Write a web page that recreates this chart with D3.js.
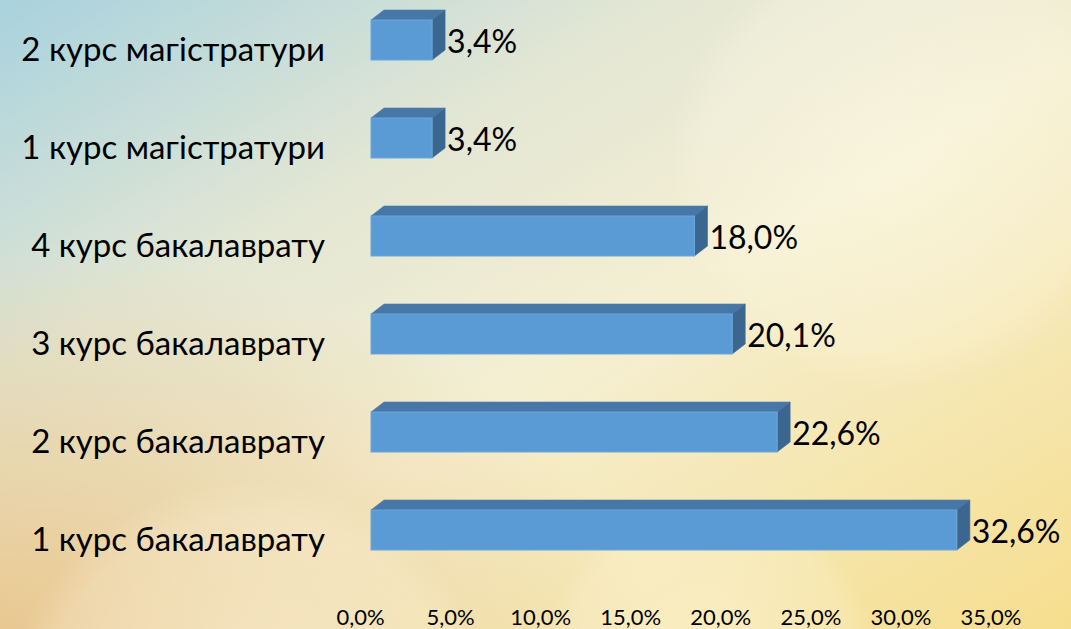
<!DOCTYPE html>
<html>
<head>
<meta charset="utf-8">
<script src="https://cdn.jsdelivr.net/npm/d3@7"></script>
<style>
  body { margin: 0; overflow: hidden; }
  svg text { font-family: Lato, "Open Sans", sans-serif; fill: #000; }
</style>
</head>
<body>
<svg id="chart" width="1071" height="629"></svg>
<script>
// data, top to bottom as drawn
const categories = [
  "2 курс магістратури",
  "1 курс магістратури",
  "4 курс бакалаврату",
  "3 курс бакалаврату",
  "2 курс бакалаврату",
  "1 курс бакалаврату"
];
const values = [3.4, 3.4, 18.0, 20.1, 22.6, 32.6];
const tickValues = [0, 5, 10, 15, 20, 25, 30, 35];

const width = 1071, height = 629;
const depthX = 13, depthY = 10;

const svg = d3.select("#chart");
const defs = svg.append("defs");

// background: soft blue -> cream -> yellow with some light blobs
let base = defs.append("linearGradient").attr("id", "bg")
  .attr("x1", 0).attr("y1", 0).attr("x2", 1).attr("y2", 1);
base.append("stop").attr("offset", "0%").attr("stop-color", "#a8d2de");
base.append("stop").attr("offset", "30%").attr("stop-color", "#e2e6d4");
base.append("stop").attr("offset", "55%").attr("stop-color", "#f5efd2");
base.append("stop").attr("offset", "100%").attr("stop-color", "#f6de8e");

let warm = defs.append("radialGradient").attr("id", "warm")
  .attr("cx", 0).attr("cy", 1).attr("r", 0.6);
warm.append("stop").attr("offset", "0%").attr("stop-color", "#e8c48a").attr("stop-opacity", 0.9);
warm.append("stop").attr("offset", "100%").attr("stop-color", "#e8c48a").attr("stop-opacity", 0);

let glow = defs.append("radialGradient").attr("id", "glow");
glow.append("stop").attr("offset", "0%").attr("stop-color", "#fffbea").attr("stop-opacity", 0.7);
glow.append("stop").attr("offset", "85%").attr("stop-color", "#fffbea").attr("stop-opacity", 0.35);
glow.append("stop").attr("offset", "100%").attr("stop-color", "#fffbea").attr("stop-opacity", 0);

svg.append("rect").attr("width", width).attr("height", height).attr("fill", "url(#bg)");
svg.append("rect").attr("width", width).attr("height", height).attr("fill", "url(#warm)");

const blobs = [
  { cx: 900, cy: 160, r: 230, o: 0.6 },
  { cx: 710, cy: 660, r: 165, o: 0.55 },
  { cx: 250, cy: 730, r: 250, o: 0.6 }
];
svg.selectAll("circle.blob").data(blobs).enter().append("circle")
  .attr("class", "blob")
  .attr("cx", d => d.cx).attr("cy", d => d.cy).attr("r", d => d.r)
  .attr("fill", "url(#glow)").attr("opacity", d => d.o);

// scales
const x = d3.scaleLinear().domain([0, 35]).range([371, 1000]);
const xTick = d3.scaleLinear().domain([0, 35]).range([360, 990.5]);
const y = d3.scaleBand().domain(categories).range([20, 550]).paddingInner(0.592).paddingOuter(0);

const locale = d3.formatLocale({ decimal: ",", thousands: " ", grouping: [3], currency: ["", ""] });
const fmt = v => locale.format(".1f")(v) + "%";

const bars = categories.map((c, i) => ({ name: c, value: values[i] }));

let g = svg.selectAll("g.bar").data(bars).enter().append("g").attr("class", "bar");

// top face
g.append("path")
  .attr("d", d => {
    let y0 = y(d.name), x0 = x(0), x1 = x(d.value);
    return `M${x0},${y0} L${x0 + depthX},${y0 - depthY} L${x1 + depthX},${y0 - depthY} L${x1},${y0} Z`;
  })
  .attr("fill", "#4677a7").attr("stroke", "#4a7cad").attr("stroke-width", 0.6);

// side face
g.append("path")
  .attr("d", d => {
    let y0 = y(d.name), x1 = x(d.value), h = y.bandwidth();
    return `M${x1},${y0} L${x1 + depthX},${y0 - depthY} L${x1 + depthX},${y0 + h - depthY} L${x1},${y0 + h} Z`;
  })
  .attr("fill", "#3b6690").attr("stroke", "#416d98").attr("stroke-width", 0.6);

// front face
g.append("rect")
  .attr("x", x(0))
  .attr("y", d => y(d.name))
  .attr("width", d => x(d.value) - x(0))
  .attr("height", y.bandwidth())
  .attr("fill", "#5b9bd5").attr("stroke", "#6aa6dc").attr("stroke-width", 1);

// value labels
g.append("text")
  .attr("x", d => x(d.value) + depthX + 2)
  .attr("y", d => y(d.name) + y.bandwidth() / 2 + 13)
  .style("font-size", "32px")
  .text(d => fmt(d.value));

// category labels
svg.selectAll("text.cat").data(bars).enter().append("text")
  .attr("class", "cat")
  .attr("x", 325)
  .attr("y", d => y(d.name) + y.bandwidth() / 2 + 21)
  .attr("text-anchor", "end")
  .style("font-size", "33px")
  .text(d => d.name);

// x axis labels
let axis = svg.append("g").attr("transform", "translate(0,606)")
  .call(d3.axisBottom(xTick).tickValues(tickValues).tickSize(0).tickFormat(fmt));
axis.select(".domain").remove();
axis.selectAll("text").style("font-size", "22px").attr("fill", "#000")
  .style("font-family", "Lato, 'Open Sans', sans-serif");
</script>
</body>
</html>
